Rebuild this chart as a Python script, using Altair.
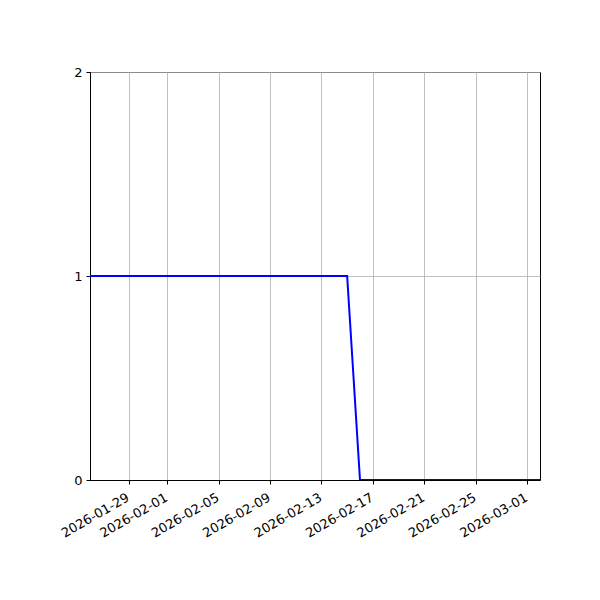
import altair as alt
import pandas as pd

dates = pd.date_range("2026-01-26", "2026-03-02", freq="D").strftime("%Y-%m-%d").tolist()
values = [1 if d <= "2026-02-15" else 0 for d in dates]
tick_dates = ["2026-01-29", "2026-02-01", "2026-02-05", "2026-02-09", "2026-02-13",
              "2026-02-17", "2026-02-21", "2026-02-25", "2026-03-01"]
y_ticks = [0, 1, 2]

df = pd.DataFrame({"day": dates, "amount": values})

def dt(s):
    y, m, d = map(int, s.split("-"))
    return alt.DateTime(year=y, month=m, date=d, utc=True)

chart = alt.Chart(df).mark_line(color="#0000ff", strokeWidth=2, clip=True).encode(
    x=alt.X("day:T",
            scale=alt.Scale(type="utc", domain=[dt("2026-01-26"), dt("2026-03-02")]),
            axis=alt.Axis(values=[dt(t) for t in tick_dates], format="%Y-%m-%d",
                          labelAngle=-30, labelAlign="right", labelBaseline="top",
                          labelOffset=-4, labelPadding=7,
                          labelOverlap=False, title=None)),
    y=alt.Y("amount:Q", scale=alt.Scale(domain=y_ticks[::2], nice=False),
            axis=alt.Axis(tickCount=len(y_ticks), format="d",
                          labelOverlap=False, labelFlush=False, title=None)),
).properties(
    width=450, height=408,
    background="white",
    autosize=alt.AutoSizeParams(type="none"),
    padding={"left": 82, "top": 64, "right": 52, "bottom": 112},
).configure_axis(
    grid=True, gridColor="#b0b0b0", gridWidth=0.8,
    domainColor="black", domainWidth=1,
    tickColor="black", tickSize=4, tickWidth=1,
    labelColor="black", labelFont="DejaVu Sans", labelFontSize=13, labelPadding=4,
).configure_view(stroke="black", strokeWidth=1)

chart.save("out.html", embed_options={"renderer": "svg", "actions": False})
